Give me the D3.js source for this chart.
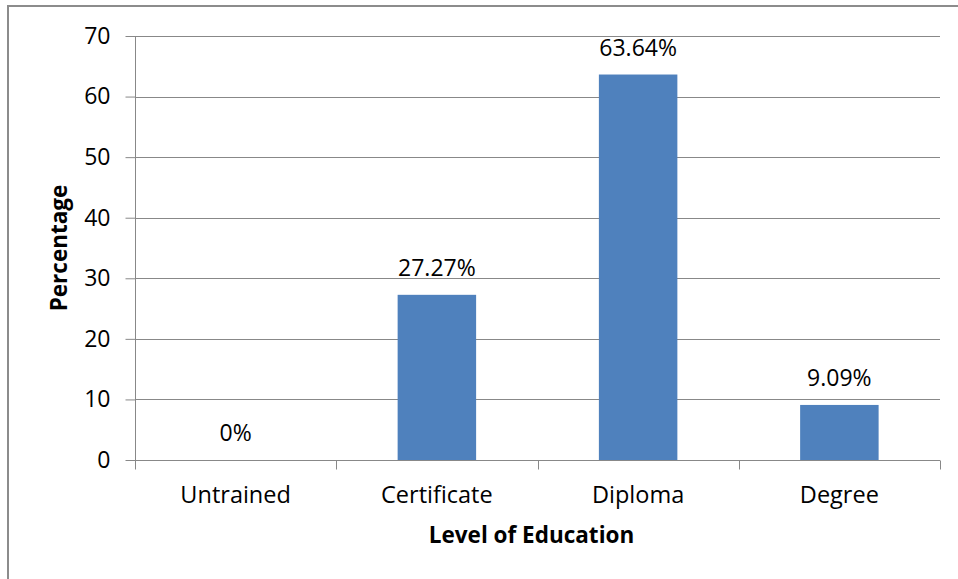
<!DOCTYPE html>
<html><head><meta charset="utf-8">
<script src="https://cdn.jsdelivr.net/npm/d3@7"></script>
<style>html,body{margin:0;padding:0;background:#fff;}svg{display:block;}</style>
</head><body>
<svg id="chart" width="958" height="579"></svg>
<script>
const categories = ["Untrained", "Certificate", "Diploma", "Degree"];
const values = [0, 27.27, 63.64, 9.09];
const valueLabels = ["0%", "27.27%", "63.64%", "9.09%"];
const yTicks = [0, 10, 20, 30, 40, 50, 60, 70];
const xTitle = "Level of Education";
const yTitle = "Percentage";

(function () {
const svg = d3.select("#chart");
const font = "'Open Sans', sans-serif";
const gridColor = "#888888";
const pLeft = 135, pRight = 940, pTop = 36, pBottom = 460;

svg.append("rect").attr("x", 8).attr("y", 6).attr("width", 1200).attr("height", 1200)
  .attr("fill", "#fff").attr("stroke", "#8c8c8c").attr("stroke-width", 2);

const x = d3.scaleBand().domain(categories).range([pLeft, pRight]).paddingInner(0.61).paddingOuter(0.305);
const y = d3.scaleLinear().domain([0, 70]).range([pBottom, pTop]);

// gridlines
svg.append("g").selectAll("line").data(yTicks.filter(d => d > 0)).join("line")
  .attr("x1", pLeft).attr("x2", pRight)
  .attr("y1", d => Math.round(y(d)) + 0.5).attr("y2", d => Math.round(y(d)) + 0.5)
  .attr("stroke", gridColor).attr("stroke-width", 1);

// bars
svg.append("g").selectAll("rect").data(categories).join("rect")
  .attr("x", d => x(d)).attr("width", x.bandwidth())
  .attr("y", (d, i) => y(values[i])).attr("height", (d, i) => y(0) - y(values[i]))
  .attr("fill", "#4F81BD");

// y axis
const yAxis = d3.axisLeft(y).tickValues(yTicks).tickSize(10).tickPadding(15).tickSizeOuter(0);
const gy = svg.append("g").attr("transform", `translate(${pLeft + 0.5},0)`).call(yAxis);
gy.select(".domain").remove();
gy.selectAll(".tick line").attr("stroke", gridColor);
gy.selectAll(".tick text").attr("font-family", font).attr("font-size", 23).attr("fill", "#000");
gy.append("line").attr("x1", 0).attr("x2", 0).attr("y1", pTop).attr("y2", pBottom + 9).attr("stroke", gridColor);

// x axis
const gx = svg.append("g").attr("transform", `translate(0,${pBottom + 0.5})`);
gx.append("line").attr("x1", pLeft).attr("x2", pRight).attr("stroke", gridColor);
const boundaries = d3.range(categories.length + 1).map(i => pLeft + i * (pRight - pLeft) / categories.length);
gx.selectAll("line.tk").data(boundaries).join("line").attr("class", "tk")
  .attr("x1", d => Math.round(d) + 0.5).attr("x2", d => Math.round(d) + 0.5)
  .attr("y1", 0).attr("y2", 9).attr("stroke", gridColor);
gx.selectAll("text").data(categories).join("text")
  .attr("x", d => x(d) + x.bandwidth() / 2).attr("y", 42)
  .attr("text-anchor", "middle").attr("font-family", font).attr("font-size", 23.5).attr("fill", "#000")
  .text(d => d);

// value labels
svg.append("g").selectAll("text").data(categories).join("text")
  .attr("x", d => x(d) + x.bandwidth() / 2)
  .attr("y", (d, i) => y(values[i]) - 19)
  .attr("text-anchor", "middle").attr("font-family", font).attr("font-size", 23).attr("fill", "#000")
  .text((d, i) => valueLabels[i]);

// titles
svg.append("text").attr("x", (pLeft + pRight) / 2 - 6).attr("y", 543)
  .attr("text-anchor", "middle").attr("font-family", font).attr("font-weight", "bold")
  .attr("font-size", 22.5).attr("fill", "#000").text(xTitle);
svg.append("text").attr("transform", `translate(67,${(pTop + pBottom) / 2}) rotate(-90)`)
  .attr("text-anchor", "middle").attr("font-family", font).attr("font-weight", "bold")
  .attr("font-size", 22.5).attr("fill", "#000").text(yTitle);
})();
</script>
</body></html>
